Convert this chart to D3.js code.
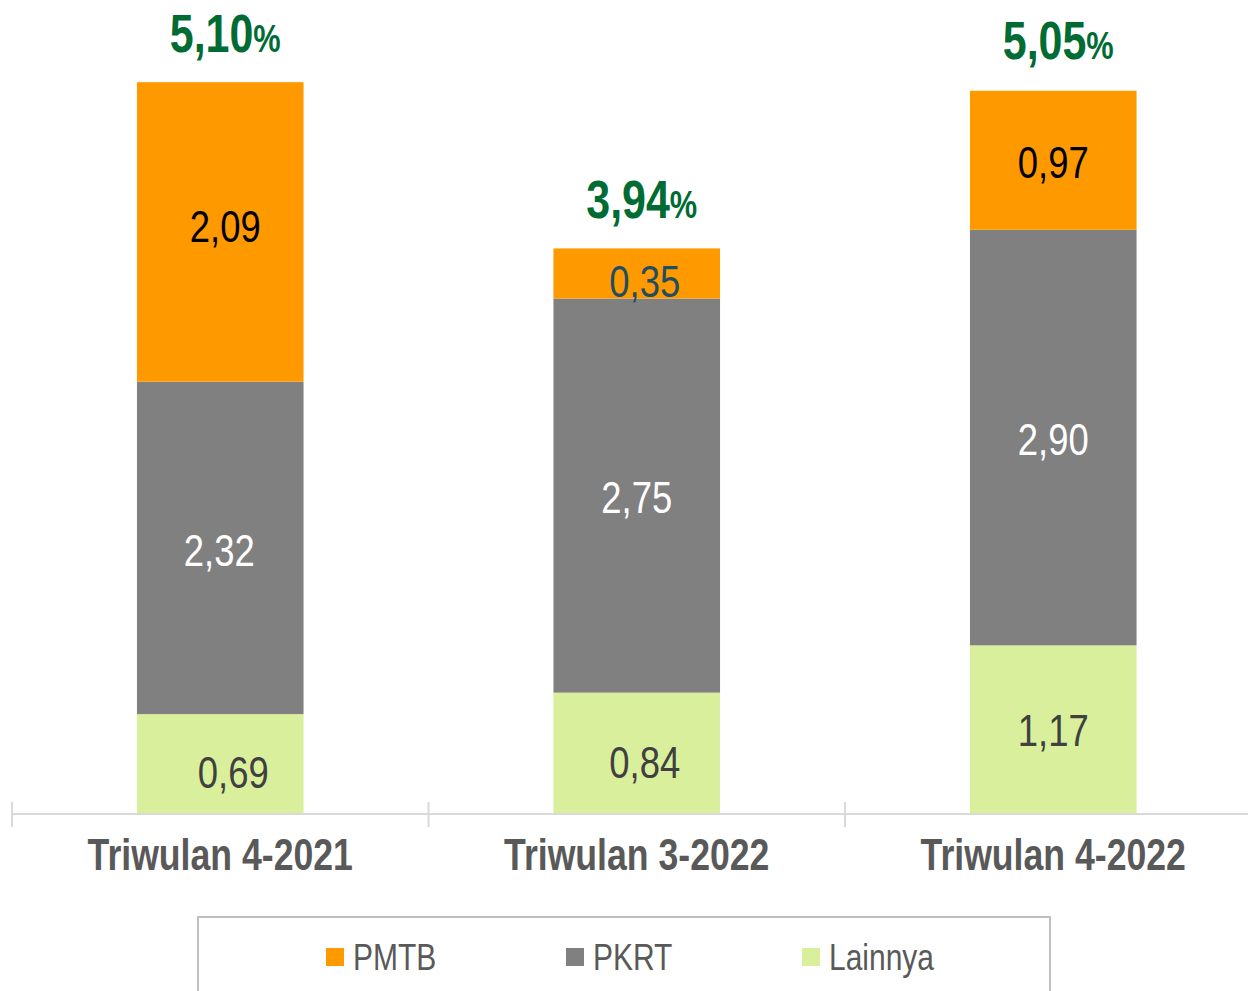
<!DOCTYPE html>
<html>
<head>
<meta charset="utf-8">
<script src="https://cdn.jsdelivr.net/npm/d3@7"></script>
<style>
  body { margin: 0; background: #fff; }
  svg text { font-family: "Liberation Sans", Arial, sans-serif; }
</style>
</head>
<body>
<div id="chart"></div>
<script>
// data
var categories = ["Triwulan 4-2021", "Triwulan 3-2022", "Triwulan 4-2022"];
var seriesNames = ["Lainnya", "PKRT", "PMTB"];
var lainnya = [0.69, 0.84, 1.17];
var pkrt = [2.32, 2.75, 2.90];
var pmtb = [2.09, 0.35, 0.97];
var totals = [5.10, 3.94, 5.05];

var colors = {PMTB: "#FF9900", PKRT: "#808080", Lainnya: "#D9EF9B"};
var labelColors = {
    PMTB: ["#000000", "#1F4E60", "#000000"],
    PKRT: ["#ffffff", "#ffffff", "#ffffff"],
    Lainnya: ["#404040", "#404040", "#404040"]
};
// small hand nudges of some labels (as in the original)
var nudge = {
    PMTB: [[5, -6], [8, 7], [0, 2]],
    PKRT: [[-1, 2], [0, 1], [0, 1]],
    Lainnya: [[13, 8], [8, 9], [0, 1]]
};

var width = 1248, height = 991;
var baseY = 813;
var narrow = 0.81; // no Arial Narrow here, so squeeze the text

function place(xx, yy) {
    return "translate(" + xx + "," + yy + ") scale(" + narrow + ",1)";
}

var svg = d3.select("#chart")
    .append("svg")
    .attr("width", width)
    .attr("height", height);

var x = d3.scaleBand()
    .domain(categories)
    .range([12, 12 + 3 * 416.5])
    .paddingInner(0.6)
    .paddingOuter(0.3);

var y = d3.scaleLinear()
    .domain([0, 5])
    .range([baseY, baseY - 5 * 143.3]);

var rows = categories.map(function (c, i) {
    return {cat: c, Lainnya: lainnya[i], PKRT: pkrt[i], PMTB: pmtb[i], total: totals[i], i: i};
});

var stack = d3.stack().keys(seriesNames)(rows);

var layers = svg.selectAll("g.layer")
    .data(stack)
    .enter()
    .append("g")
    .attr("class", "layer")
    .attr("fill", function (d) { return colors[d.key]; });

layers.selectAll("rect")
    .data(function (d) { return d; })
    .enter()
    .append("rect")
    .attr("x", function (d) { return x(d.data.cat); })
    .attr("y", function (d) { return y(d[1]); })
    .attr("width", x.bandwidth())
    .attr("height", function (d) { return y(d[0]) - y(d[1]); });

// value labels
stack.forEach(function (layer) {
    svg.append("g")
        .selectAll("text")
        .data(layer)
        .enter()
        .append("text")
        .attr("transform", function (d) {
            var n = nudge[layer.key][d.data.i];
            return place(x(d.data.cat) + x.bandwidth() / 2 + n[0], (y(d[0]) + y(d[1])) / 2 + n[1]);
        })
        .attr("dy", "0.36em")
        .attr("text-anchor", "middle")
        .style("font-size", "45px")
        .style("fill", function (d) { return labelColors[layer.key][d.data.i]; })
        .text(function (d) { return d3.format(".2f")(d.data[layer.key]).replace(".", ","); });
});

// totals
var tot = svg.append("g")
    .selectAll("text")
    .data(rows)
    .enter()
    .append("text")
    .attr("transform", function (d) { return place(x(d.cat) + x.bandwidth() / 2 + 5, y(d.total) - 30); })
    .attr("text-anchor", "middle")
    .style("font-weight", "bold")
    .style("fill", "#006B33");

tot.append("tspan")
    .style("font-size", "53px")
    .text(function (d) { return d3.format(".2f")(d.total).replace(".", ","); });
tot.append("tspan")
    .style("font-size", "38px")
    .text("%");

// x axis
var axis = svg.append("g");
axis.append("line")
    .attr("x1", 12).attr("x2", width)
    .attr("y1", baseY + 1).attr("y2", baseY + 1)
    .attr("stroke", "#D9D9D9")
    .attr("stroke-width", 2);

var bounds = categories.map(function (c) { return x(c) - x.step() * 0.3; });
bounds.push(x(categories[2]) + x.bandwidth() + x.step() * 0.3);
axis.selectAll("line.tick")
    .data(bounds)
    .enter()
    .append("line")
    .attr("class", "tick")
    .attr("x1", function (d) { return d; })
    .attr("x2", function (d) { return d; })
    .attr("y1", baseY - 11)
    .attr("y2", baseY + 14)
    .attr("stroke", "#D9D9D9")
    .attr("stroke-width", 2);

axis.selectAll("text")
    .data(categories)
    .enter()
    .append("text")
    .attr("transform", function (d) { return place(x(d) + x.bandwidth() / 2, 870); })
    .attr("text-anchor", "middle")
    .style("font-size", "44px")
    .style("font-weight", "bold")
    .style("fill", "#595959")
    .text(function (d) { return d; });

// legend
svg.append("rect")
    .attr("x", 198).attr("y", 917)
    .attr("width", 852).attr("height", 100)
    .attr("fill", "none")
    .attr("stroke", "#BFBFBF")
    .attr("stroke-width", 2);

var legendItems = ["PMTB", "PKRT", "Lainnya"];
var legendX = [326, 566, 802];
var lg = svg.append("g")
    .selectAll("g")
    .data(legendItems)
    .enter()
    .append("g")
    .attr("transform", function (d, i) { return "translate(" + legendX[i] + ",948)"; });

lg.append("rect")
    .attr("width", 18).attr("height", 18)
    .attr("fill", function (d) { return colors[d]; });

lg.append("text")
    .attr("transform", place(27, 22))
    .style("font-size", "37px")
    .style("fill", "#595959")
    .text(function (d) { return d; });
</script>
</body>
</html>
